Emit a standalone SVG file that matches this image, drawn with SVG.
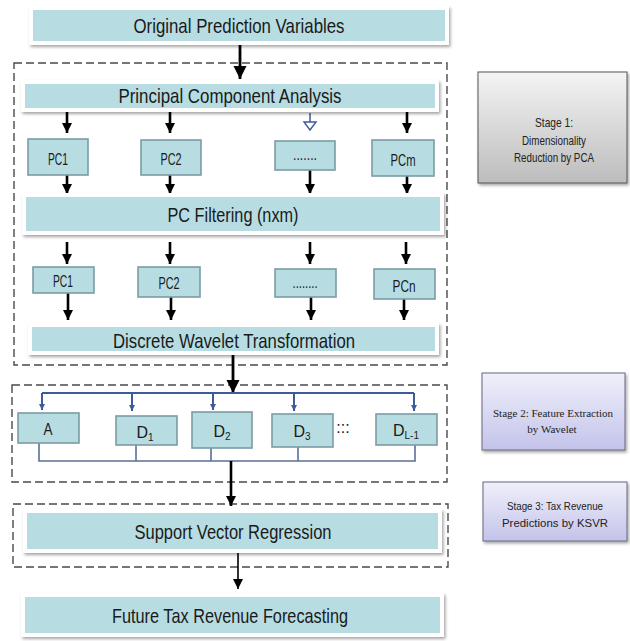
<svg xmlns="http://www.w3.org/2000/svg" width="630" height="641" viewBox="0 0 630 641">
<defs>
  <filter id="sh" x="-5%" y="-20%" width="112%" height="150%">
    <feDropShadow dx="1.5" dy="2" stdDeviation="1.5" flood-color="#000" flood-opacity="0.35"/>
  </filter>
  <linearGradient id="gGray" x1="0" y1="0" x2="0" y2="1">
    <stop offset="0" stop-color="#f4f4f4"/>
    <stop offset="1" stop-color="#bdbdbd"/>
  </linearGradient>
  <linearGradient id="gLav" x1="0" y1="0" x2="0" y2="1">
    <stop offset="0" stop-color="#f0f0fb"/>
    <stop offset="1" stop-color="#c3c3ea"/>
  </linearGradient>
  <marker id="ah" viewBox="0 0 10 10" refX="10" refY="5" markerUnits="userSpaceOnUse" markerWidth="10" markerHeight="13" orient="auto">
    <path d="M0,0 L10,5 L0,10 z" fill="#000"/>
  </marker>
  <marker id="ahL" viewBox="0 0 10 10" refX="10" refY="5" markerUnits="userSpaceOnUse" markerWidth="13" markerHeight="15" orient="auto">
    <path d="M0,0 L10,5 L0,10 z" fill="#000"/>
  </marker>
  <marker id="ahB" viewBox="0 0 10 10" refX="10" refY="5" markerUnits="userSpaceOnUse" markerWidth="6" markerHeight="8" orient="auto">
    <path d="M0,0 L10,5 L0,10 z" fill="#3d5a99"/>
  </marker>
</defs>
<style>
  .big { fill: #b7dde3; stroke: #ffffff; stroke-width: 4; filter: url(#sh); }
  .sm { fill: #b7dde3; stroke: #7b9ca4; stroke-width: 1.6; }
  .dash { fill: none; stroke: #4a4a4a; stroke-width: 1.4; stroke-dasharray: 8 4; }
  .lbl { font-family: "Liberation Sans", Arial, sans-serif; font-size: 21px; fill: #1a1a1a; text-anchor: middle; }
  .slbl { font-family: "Liberation Sans", Arial, sans-serif; font-size: 16px; fill: #1a1a1a; text-anchor: middle; }
  .stg { font-family: "Liberation Sans", Arial, sans-serif; font-size: 13px; fill: #222; text-anchor: middle; }
  .stg3 { font-family: "Liberation Sans", Arial, sans-serif; font-size: 11.5px; fill: #222; text-anchor: middle; }
  .stgs { font-family: "Liberation Serif", "Times New Roman", serif; font-size: 11px; fill: #222; text-anchor: middle; }
  .arr { stroke: #000; stroke-width: 2.6; fill: none; marker-end: url(#ah); }
  .arrL { stroke: #000; stroke-width: 2.8; fill: none; marker-end: url(#ahL); }
  .arrT { stroke: #000; stroke-width: 1.6; fill: none; marker-end: url(#ah); }
  .blue { stroke: #3d5a99; stroke-width: 2; fill: none; }
  .barr { stroke: #3d5a99; stroke-width: 2; fill: none; marker-end: url(#ahB); }
  .gl { stroke: #5b6f97; stroke-width: 1.6; fill: none; }
</style>

<!-- stage dashed frames -->
<g id="frames">
  <rect class="dash" x="14" y="63" width="433" height="302"/>
  <rect class="dash" x="12" y="385" width="435" height="97"/>
  <rect class="dash" x="13" y="504" width="435" height="63"/>
</g>

<!-- connectors -->
<g id="connectors">
  <line class="arrL" x1="240" y1="45" x2="240" y2="79"/>
  <line class="arr" x1="67" y1="112" x2="67" y2="133"/>
  <line class="arr" x1="170" y1="112" x2="170" y2="133"/>
  <line stroke="#3d5a99" stroke-width="1.5" x1="310" y1="113" x2="310" y2="122"/>
  <path d="M304,122 L316,122 L310,130 z" fill="#fff" stroke="#3d5a99" stroke-width="1.4"/>
  <line class="arr" x1="407" y1="112" x2="407" y2="133"/>
  <line class="arr" x1="67" y1="175" x2="67" y2="194"/>
  <line class="arr" x1="170" y1="175" x2="170" y2="194"/>
  <line class="arr" x1="310" y1="170" x2="310" y2="194"/>
  <line class="arr" x1="407" y1="176" x2="407" y2="194"/>
  <line class="arr" x1="67" y1="242" x2="67" y2="264"/>
  <line class="arr" x1="170" y1="242" x2="170" y2="264"/>
  <line class="arr" x1="310" y1="242" x2="310" y2="264"/>
  <line class="arr" x1="406" y1="242" x2="406" y2="264"/>
  <line class="arr" x1="68" y1="293" x2="68" y2="320"/>
  <line class="arr" x1="171" y1="297" x2="171" y2="320"/>
  <line class="arr" x1="311" y1="297" x2="311" y2="320"/>
  <line class="arr" x1="404" y1="299" x2="404" y2="320"/>
  <line class="arrL" x1="233" y1="354" x2="233" y2="393"/>
  <line class="blue" x1="42" y1="393" x2="414" y2="393"/>
  <line class="barr" x1="42" y1="393" x2="42" y2="410"/>
  <line class="barr" x1="132" y1="393" x2="132" y2="411"/>
  <line class="barr" x1="213" y1="393" x2="213" y2="410"/>
  <line class="barr" x1="294" y1="393" x2="294" y2="411"/>
  <line class="barr" x1="414" y1="393" x2="414" y2="411"/>
  <path class="gl" d="M39,443 V461 H415 V445 M136,445 V461 M211,448 V461 M298,447 V461"/>
  <line class="arr" x1="231" y1="461" x2="231" y2="506"/>
  <line class="arrT" x1="238" y1="553" x2="238" y2="589"/>
</g>

<g id="n-original">
  <rect class="big" x="31" y="8" width="416" height="35"/>
  <text class="lbl" x="239" y="33" textLength="211" lengthAdjust="spacingAndGlyphs">Original Prediction Variables</text>
</g>
<g id="n-pca">
  <rect class="big" x="23" y="82" width="414" height="28"/>
  <text class="lbl" x="230" y="103" textLength="223" lengthAdjust="spacingAndGlyphs">Principal Component Analysis</text>
</g>
<g id="n-pc1a">
  <rect class="sm" x="28" y="139" width="60" height="36"/>
  <text class="slbl" x="58" y="165" textLength="20" lengthAdjust="spacingAndGlyphs">PC1</text>
</g>
<g id="n-pc2a">
  <rect class="sm" x="141" y="140" width="60" height="35"/>
  <text class="slbl" x="171" y="165" textLength="21" lengthAdjust="spacingAndGlyphs">PC2</text>
</g>
<g id="n-dotsa">
  <rect class="sm" x="275" y="141" width="60" height="29"/>
  <text class="slbl" x="305" y="160" textLength="24" lengthAdjust="spacingAndGlyphs">.......</text>
</g>
<g id="n-pcm">
  <rect class="sm" x="372" y="140" width="62" height="36"/>
  <text class="slbl" x="403" y="166" textLength="25" lengthAdjust="spacingAndGlyphs">PCm</text>
</g>
<g id="n-filter">
  <rect class="big" x="24" y="195" width="418" height="38"/>
  <text class="lbl" x="233" y="222" textLength="131" lengthAdjust="spacingAndGlyphs">PC Filtering (nxm)</text>
</g>
<g id="n-pc1b">
  <rect class="sm" x="33" y="267" width="61" height="26"/>
  <text class="slbl" x="63" y="287" textLength="20" lengthAdjust="spacingAndGlyphs">PC1</text>
</g>
<g id="n-pc2b">
  <rect class="sm" x="138" y="267" width="62" height="30"/>
  <text class="slbl" x="169" y="289" textLength="21" lengthAdjust="spacingAndGlyphs">PC2</text>
</g>
<g id="n-dotsb">
  <rect class="sm" x="275" y="269" width="61" height="28"/>
  <text class="slbl" x="305" y="288" textLength="25" lengthAdjust="spacingAndGlyphs">........</text>
</g>
<g id="n-pcn">
  <rect class="sm" x="374" y="269" width="61" height="30"/>
  <text class="slbl" x="404" y="292" textLength="23" lengthAdjust="spacingAndGlyphs">PCn</text>
</g>
<g id="n-dwt">
  <rect class="big" x="30" y="325" width="407" height="28"/>
  <text class="lbl" x="234" y="348" textLength="242" lengthAdjust="spacingAndGlyphs">Discrete Wavelet Transformation</text>
</g>
<g id="n-a">
  <rect class="sm" x="18" y="413" width="61" height="30"/>
  <text class="slbl" x="48" y="435" font-size="17" textLength="9" lengthAdjust="spacingAndGlyphs">A</text>
</g>
<g id="n-d1">
  <rect class="sm" x="116" y="416" width="61" height="29"/>
  <text class="slbl" x="145" y="438" font-size="17">D<tspan font-size="10" dy="3">1</tspan></text>
</g>
<g id="n-d2">
  <rect class="sm" x="192" y="412" width="60" height="36"/>
  <text class="slbl" x="222" y="437" font-size="17">D<tspan font-size="10" dy="3">2</tspan></text>
</g>
<g id="n-d3">
  <rect class="sm" x="272" y="414" width="61" height="33"/>
  <text class="slbl" x="302" y="437" font-size="17">D<tspan font-size="10" dy="3">3</tspan></text>
</g>
<text class="slbl" x="343" y="433" font-size="12" fill="#444">:::</text>
<g id="n-dl1">
  <rect class="sm" x="376" y="414" width="61" height="31"/>
  <text class="slbl" x="406" y="436" font-size="17">D<tspan font-size="10" dy="3">L-1</tspan></text>
</g>
<g id="n-svr">
  <rect class="big" x="25" y="511" width="415" height="40"/>
  <text class="lbl" x="233" y="539" textLength="197" lengthAdjust="spacingAndGlyphs">Support Vector Regression</text>
</g>
<g id="n-future">
  <rect class="big" x="23" y="595" width="419" height="40"/>
  <text class="lbl" x="230" y="623" textLength="236" lengthAdjust="spacingAndGlyphs">Future Tax Revenue Forecasting</text>
</g>

<g id="n-stage1">
  <rect x="478" y="72" width="149" height="111" fill="url(#gGray)" stroke="#555" stroke-width="1" filter="url(#sh)"/>
  <text class="stg" x="554" y="127" textLength="38" lengthAdjust="spacingAndGlyphs">Stage 1:</text>
  <text class="stg" x="554" y="145" textLength="64" lengthAdjust="spacingAndGlyphs">Dimensionality</text>
  <text class="stg" x="554" y="162" textLength="80" lengthAdjust="spacingAndGlyphs">Reduction by PCA</text>
</g>
<g id="n-stage2">
  <rect x="482" y="373" width="143" height="77" fill="url(#gLav)" stroke="#666680" stroke-width="1" filter="url(#sh)"/>
  <text class="stgs" x="553" y="417">Stage 2: Feature Extraction</text>
  <text class="stgs" x="552" y="433">by Wavelet</text>
</g>
<g id="n-stage3">
  <rect x="483" y="482" width="144" height="59" fill="url(#gLav)" stroke="#666680" stroke-width="1" filter="url(#sh)"/>
  <text class="stg3" x="555" y="510" textLength="96" lengthAdjust="spacingAndGlyphs">Stage 3: Tax Revenue</text>
  <text class="stg3" x="555" y="527" textLength="106" lengthAdjust="spacingAndGlyphs">Predictions by KSVR</text>
</g>
</svg>
